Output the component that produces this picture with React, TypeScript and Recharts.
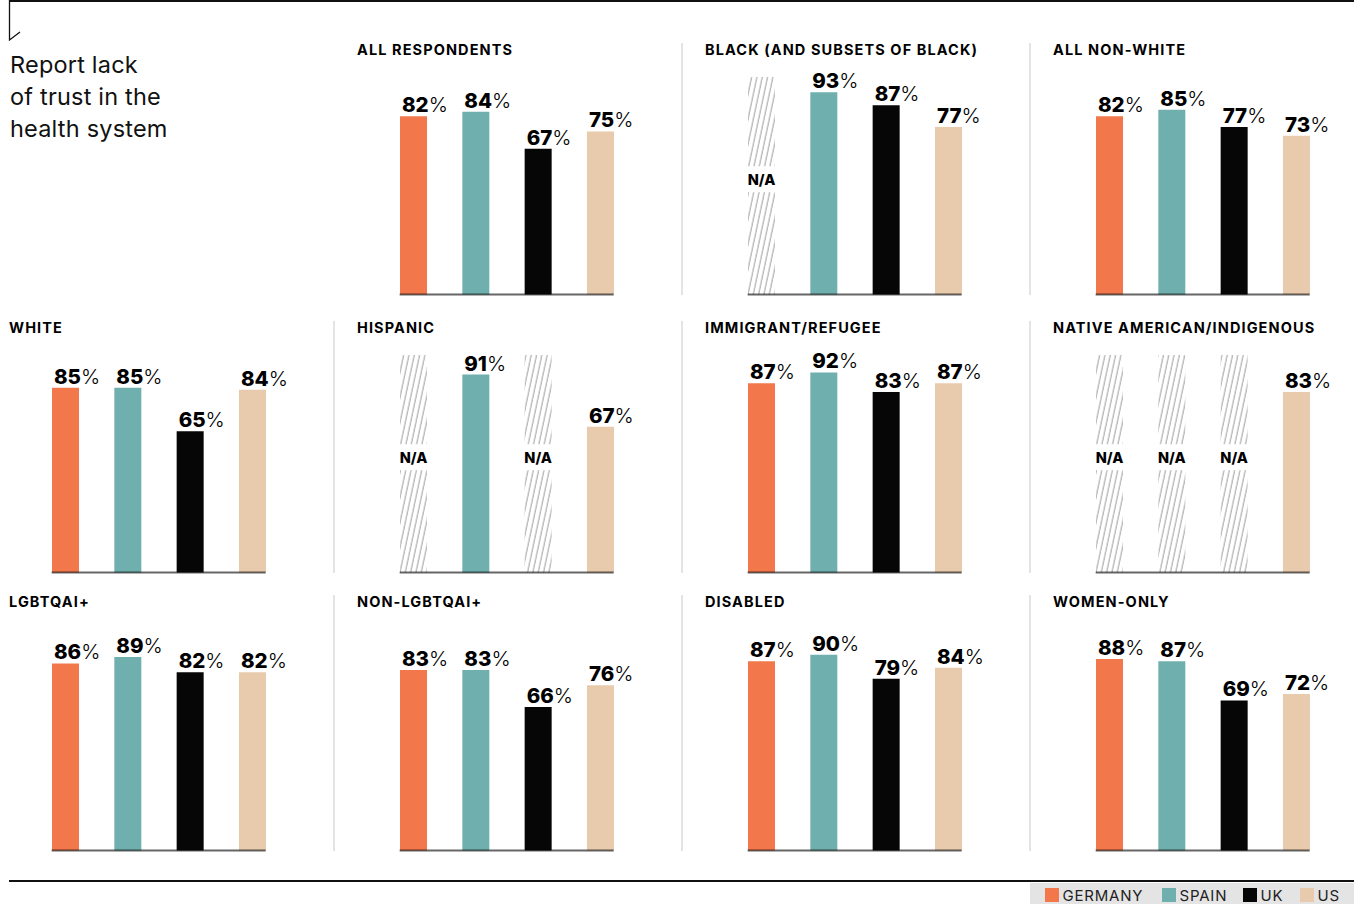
import { useId } from "react";
import { Bar, BarChart, Cell, LabelList, ReferenceLine, XAxis, YAxis } from "recharts";

const COUNTRIES = ["GERMANY", "SPAIN", "UK", "US"];
const COUNTRY_COLORS = ["#F2784B", "#6FB0AE", "#060606", "#E8CAAD"];

// share reporting lack of trust, per country (null = no data)
const ALL_RESPONDENTS = [82, 84, 67, 75];
const BLACK = [null, 93, 87, 77];
const ALL_NON_WHITE = [82, 85, 77, 73];
const WHITE = [85, 85, 65, 84];
const HISPANIC = [null, 91, null, 67];
const IMMIGRANT = [87, 92, 83, 87];
const NATIVE = [null, null, null, 83];
const LGBTQAI = [86, 89, 82, 82];
const NON_LGBTQAI = [83, 83, 66, 76];
const DISABLED = [87, 90, 79, 84];
const WOMEN_ONLY = [88, 87, 69, 72];

const GROUP_TITLES = [
  "ALL RESPONDENTS",
  "BLACK (AND SUBSETS OF BLACK)",
  "ALL NON-WHITE",
  "WHITE",
  "HISPANIC",
  "IMMIGRANT/REFUGEE",
  "NATIVE AMERICAN/INDIGENOUS",
  "LGBTQAI+",
  "NON-LGBTQAI+",
  "DISABLED",
  "WOMEN-ONLY",
];
const GROUP_VALUES = [
  ALL_RESPONDENTS,
  BLACK,
  ALL_NON_WHITE,
  WHITE,
  HISPANIC,
  IMMIGRANT,
  NATIVE,
  LGBTQAI,
  NON_LGBTQAI,
  DISABLED,
  WOMEN_ONLY,
];

const Y_MAX = 100;

const FONT = "Inter, 'Noto Sans', sans-serif";
const COL_STEP = 348;
const PLOT_LEFT = 52;
const BASELINES = [294, 572, 850];
const TITLE_Y = [50, 328, 602];
const PLOT_H = 217.5;
const BAND = 62.33;
const BAR = 27;
const INSET = (BAND - BAR) / 2;
const MARGIN = { top: 28, right: 26, bottom: 2, left: 0 };

function ValueLabel(props: any) {
  const { x, y, value } = props;
  if (value == null) return null;
  return (
    <text x={x + 2} y={y - 4} fontFamily={FONT} fontSize={20.5} fill="#000">
      <tspan fontWeight={800}>{value}</tspan>
      <tspan fontWeight={300}>%</tspan>
    </text>
  );
}

function HatchBar(props: any) {
  const { x, y, width, height, patternId } = props;
  if (!height || height <= 0) return null;
  const cy = y + height * 0.47;
  return (
    <g>
      <defs>
        <pattern
          id={patternId}
          patternUnits="userSpaceOnUse"
          width={5.2}
          height={10}
          patternTransform="rotate(12)"
        >
          <line x1={1} y1={0} x2={1} y2={10} stroke="#6a6a6a" strokeWidth={0.7} />
        </pattern>
      </defs>
      <rect x={x} y={y} width={width} height={height} fill={`url(#${patternId})`} />
      <rect x={x - 1} y={cy - 13} width={width + 2} height={26} fill="#fff" />
      <text
        x={x + width / 2}
        y={cy}
        textAnchor="middle"
        dominantBaseline="central"
        fontFamily={FONT}
        fontWeight={800}
        fontSize={14.5}
        fill="#000"
      >
        N/A
      </text>
    </g>
  );
}

function Panel({ title, values, cell }: { title: string; values: (number | null)[]; cell: number }) {
  const uid = useId().replace(/:/g, "");
  const row = Math.floor(cell / 4);
  const col = cell % 4;
  const data = COUNTRIES.map((country, i) => ({
    country,
    value: values[i],
    na: values[i] == null ? Y_MAX : null,
  }));
  const plotLeft = PLOT_LEFT + COL_STEP * col;
  const chartW = BAND * 4 + MARGIN.left + MARGIN.right;
  const chartH = PLOT_H + MARGIN.top + MARGIN.bottom;
  const sepX = 333 + COL_STEP * (col - 1);
  const showSep = col > 0 && !(row === 0 && col === 1);

  return (
    <>
      {showSep && (
        <div
          style={{
            position: "absolute",
            left: sepX,
            top: TITLE_Y[row] - 7,
            width: 1.5,
            height: BASELINES[row] - TITLE_Y[row] + 8,
            background: "#e4e4e4",
          }}
        />
      )}
      <div
        style={{
          position: "absolute",
          left: plotLeft - 43,
          top: TITLE_Y[row] - 9,
          fontFamily: FONT,
          fontWeight: 700,
          fontSize: 14.5,
          letterSpacing: 1.1,
          lineHeight: "18px",
          whiteSpace: "nowrap",
          color: "#000",
        }}
      >
        {title}
      </div>
      <div
        style={{
          position: "absolute",
          left: plotLeft - INSET - MARGIN.left,
          top: BASELINES[row] - PLOT_H - MARGIN.top,
        }}
      >
        <BarChart width={chartW} height={chartH} data={data} margin={MARGIN} barSize={BAR}>
          <XAxis dataKey="country" hide />
          <YAxis hide domain={[0, Y_MAX]} />
          <Bar dataKey="value" stackId="s" isAnimationActive={false}>
            {data.map((d, i) => (
              <Cell key={d.country} fill={COUNTRY_COLORS[i]} />
            ))}
            <LabelList dataKey="value" content={ValueLabel} />
          </Bar>
          <Bar
            dataKey="na"
            stackId="s"
            isAnimationActive={false}
            shape={(p: any) => <HatchBar {...p} patternId={`hatch-${uid}-${p.index}`} />}
          />
          <ReferenceLine
            y={0}
            shape={(p: any) => (
              <line
                x1={p.x1 + INSET}
                y1={p.y1}
                x2={p.x2 - INSET}
                y2={p.y2}
                stroke="#000"
                strokeOpacity={0.6}
                strokeWidth={1.8}
              />
            )}
          />
        </BarChart>
      </div>
    </>
  );
}

const LEGEND_X = [1045, 1162, 1243, 1300];

export default function App() {
  return (
    <div
      style={{
        position: "absolute",
        left: 0,
        top: 0,
        width: 1361,
        height: 904,
        background: "#fff",
        overflow: "hidden",
        fontFamily: FONT,
      }}
    >
      <div style={{ position: "absolute", left: 9, top: 0, width: 1345, height: 1.8, background: "#111" }} />
      <svg style={{ position: "absolute", left: 0, top: 0 }} width={30} height={45}>
        <path d="M9.5 0 V40 L20 32" fill="none" stroke="#111" strokeWidth={1.3} />
      </svg>
      <div
        style={{
          position: "absolute",
          left: 10,
          top: 49,
          fontSize: 23.5,
          letterSpacing: 0.2,
          lineHeight: "32px",
          color: "#111",
        }}
      >
        Report lack
        <br />
        of trust in the
        <br />
        health system
      </div>

      {GROUP_TITLES.map((title, i) => (
        <Panel key={title} title={title} values={GROUP_VALUES[i]} cell={i + 1} />
      ))}

      <div style={{ position: "absolute", left: 9, top: 880, width: 1345, height: 1.8, background: "#111" }} />
      <div style={{ position: "absolute", left: 1030, top: 883, width: 324, height: 21, background: "#e4e4e4" }} />
      {COUNTRIES.map((c, i) => (
        <div
          key={c}
          style={{
            position: "absolute",
            left: LEGEND_X[i],
            top: 887,
            display: "flex",
            alignItems: "center",
            height: 16,
          }}
        >
          <div style={{ width: 13.5, height: 13.5, background: COUNTRY_COLORS[i], marginRight: 4 }} />
          <span style={{ fontSize: 15, letterSpacing: 0.8, color: "#222" }}>{c}</span>
        </div>
      ))}
    </div>
  );
}
